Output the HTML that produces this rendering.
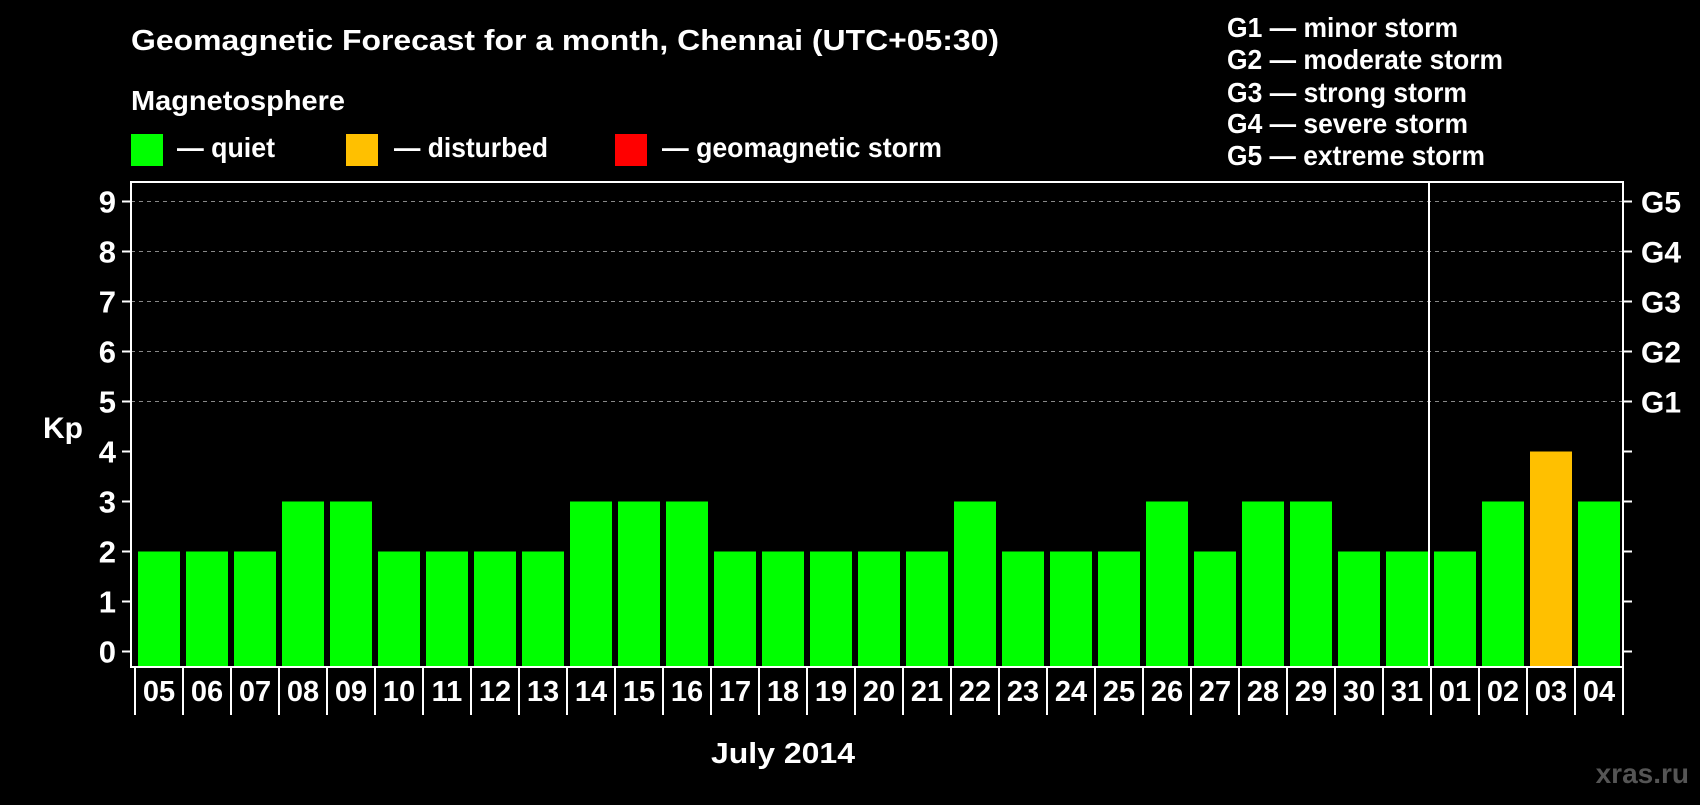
<!DOCTYPE html>
<html><head><meta charset="utf-8"><style>
body{margin:0;background:#000;width:1700px;height:800px;overflow:hidden;font-family:"Liberation Sans",sans-serif;font-weight:bold;color:#fff}
svg text{font-family:"Liberation Sans",sans-serif;font-weight:bold;fill:#fff}
</style></head><body>
<svg id="chart" width="1700" height="800" xmlns="http://www.w3.org/2000/svg">
<text x="131" y="50" font-size="29" textLength="868" lengthAdjust="spacingAndGlyphs">Geomagnetic Forecast for a month, Chennai (UTC+05:30)</text>
<text x="131" y="110" font-size="28" textLength="214" lengthAdjust="spacingAndGlyphs">Magnetosphere</text>
<g><rect x="131" y="134" width="32" height="32" fill="#00ff00"/><text x="177" y="157" font-size="28" textLength="98" lengthAdjust="spacingAndGlyphs">— quiet</text></g>
<g><rect x="346" y="134" width="32" height="32" fill="#ffc000"/><text x="394" y="157" font-size="28" textLength="154" lengthAdjust="spacingAndGlyphs">— disturbed</text></g>
<g><rect x="615" y="134" width="32" height="32" fill="#ff0000"/><text x="662" y="157" font-size="28" textLength="280" lengthAdjust="spacingAndGlyphs">— geomagnetic storm</text></g>
<g font-size="28">
<text x="1227" y="37" textLength="231" lengthAdjust="spacingAndGlyphs">G1 — minor storm</text>
<text x="1227" y="69" textLength="276" lengthAdjust="spacingAndGlyphs">G2 — moderate storm</text>
<text x="1227" y="102" textLength="240" lengthAdjust="spacingAndGlyphs">G3 — strong storm</text>
<text x="1227" y="133" textLength="241" lengthAdjust="spacingAndGlyphs">G4 — severe storm</text>
<text x="1227" y="165" textLength="258" lengthAdjust="spacingAndGlyphs">G5 — extreme storm</text>
</g>
<text x="63" y="438" font-size="30" text-anchor="middle">Kp</text>
<text x="783" y="763" font-size="29" text-anchor="middle" textLength="144" lengthAdjust="spacingAndGlyphs">July 2014</text>
<text x="1689" y="783" font-size="28" text-anchor="end" style="fill:#555">xras.ru</text>
<g id="grid"></g><g id="bars"></g><g id="axes"></g>
</svg>
<script>
const days=["05","06","07","08","09","10","11","12","13","14","15","16","17","18","19","20","21","22","23","24","25","26","27","28","29","30","31","01","02","03","04"];
const kp=[2,2,2,3,3,2,2,2,2,3,3,3,2,2,2,2,2,3,2,2,2,3,2,3,3,2,2,2,3,4,3];
const yTicks=[0,1,2,3,4,5,6,7,8,9];
const gLabels=["G1","G2","G3","G4","G5"];
const NS="http://www.w3.org/2000/svg";
const L=131,R=1623,T=182,B=667,x0=135,slot=48;
const y=v=>651.5-v*50;
const xs=i=>x0+i*slot;
function mk(t,a,p){const e=document.createElementNS(NS,t);for(const k in a)e.setAttribute(k,a[k]);p.appendChild(e);return e;}
const grid=document.getElementById('grid'),bars=document.getElementById('bars'),axes=document.getElementById('axes');
yTicks.forEach(v=>{
 if(v>=5){const g=mk('line',{x1:L,x2:R,y1:y(v),y2:y(v),stroke:'#888','stroke-width':1,'stroke-dasharray':'4,4'},grid);
 
 }
 const t1=mk('line',{x1:L-9,x2:L,y1:y(v),y2:y(v),stroke:'#fff','stroke-width':2},axes);
 
 
 const t2=mk('line',{x1:R,x2:R+9,y1:y(v),y2:y(v),stroke:'#fff','stroke-width':2},axes);
 
 
 const lb=mk('text',{x:116,y:y(v)+11,'font-size':31,'text-anchor':'end'},axes);lb.textContent=v;
 
 
});
gLabels.forEach((g,i)=>{const t=mk('text',{x:1641,y:y(5+i)+11,'font-size':30},axes);t.textContent=g;
 
 });
kp.forEach((v,i)=>{
 const b=mk('rect',{x:xs(i)+3,y:y(v),width:42,height:B-y(v)-1,fill:v>=5?'#ff0000':v>=4?'#ffc000':'#00ff00'},bars);
 
 
 const sep=mk('line',{x1:xs(i),x2:xs(i),y1:B,y2:715,stroke:'#fff','stroke-width':2},axes);
 
 
 const t=mk('text',{x:xs(i)+24,y:701,'font-size':29,'text-anchor':'middle'},axes);t.textContent=days[i];
 
 
});
const last=mk('line',{x1:xs(kp.length),x2:xs(kp.length),y1:B,y2:715,stroke:'#fff','stroke-width':2},axes);


const fr=mk('rect',{x:L,y:T,width:R-L,height:B-T,fill:'none',stroke:'#fff','stroke-width':2},axes);


const idx=days.indexOf("01");
const dv=mk('line',{x1:xs(idx)-2,x2:xs(idx)-2,y1:T,y2:B,stroke:'#fff','stroke-width':2},axes);


</script>
</body></html>
